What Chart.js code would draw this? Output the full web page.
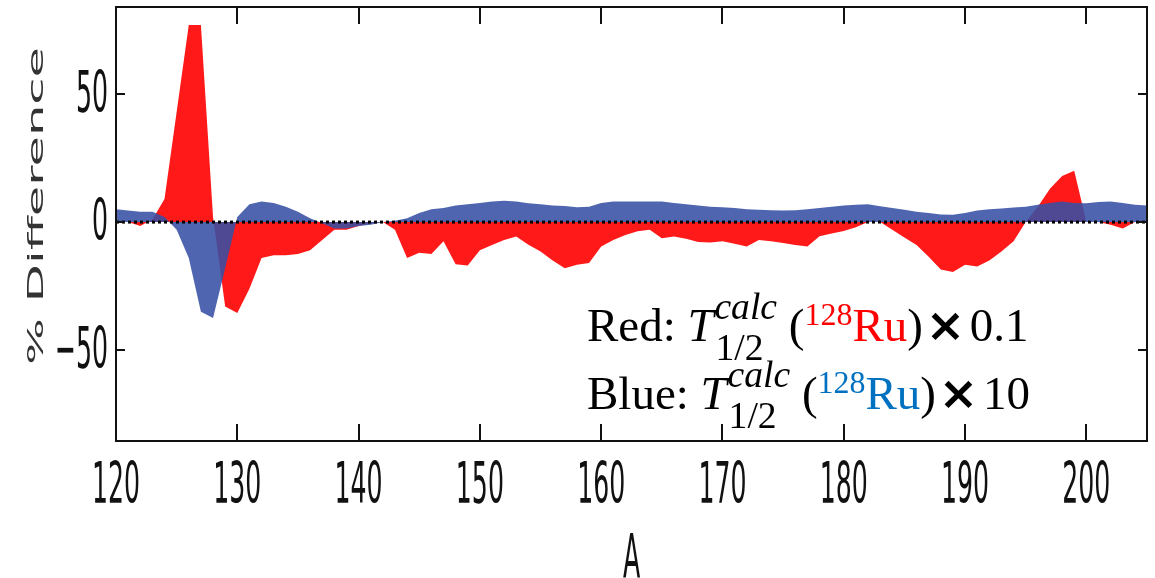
<!DOCTYPE html>
<html>
<head>
    <title>% Difference vs A</title>
    <script src="https://cdn.jsdelivr.net/npm/chart.js"></script>
    <style>
        body {
            margin: 0;
            background: white;
        }
        .wrap {
            position: relative;
            width: 1155px;
            height: 578px;
        }
        .note {
            position: absolute;
            left: 587px;
            font-family: "Liberation Serif", serif;
            font-size: 47px;
            line-height: 1;
            white-space: nowrap;
            color: #000;
        }
        .T { font-style: italic; }
        .ss {
            display: inline-block;
            position: relative;
            width: 1.6em;
            height: 0;
        }
        .sp {
            position: absolute;
            left: 0.02em;
            bottom: 0.4em;
            font-size: 0.8em;
            font-style: italic;
        }
        .sb {
            position: absolute;
            left: 0.05em;
            top: -0.32em;
            font-size: 0.8em;
        }
        .iso sup {
            font-size: 0.68em;
            vertical-align: 0.5em;
            line-height: 0;
        }
        .red { color: #ff0000; }
        .blue { color: #0070c0; }
        .x {
            font-family: "DejaVu Sans", sans-serif;
            font-weight: bold;
            padding: 0 0.1em 0 0.06em;
        }
    </style>
</head>
<body>
    <div class="wrap">
        <canvas id="chart" width="1155" height="578"></canvas>
        <div class="note" style="top:301px;">Red: <span class="T">T</span><span class="ss"><span class="sp">calc</span><span class="sb">1/2</span></span>(<span class="iso red"><sup>128</sup>Ru</span>)<span class="x">×</span>0.1</div>
        <div class="note" style="top:369px;">Blue: <span class="T">T</span><span class="ss"><span class="sp">calc</span><span class="sb">1/2</span></span>(<span class="iso blue"><sup>128</sup>Ru</span>)<span class="x">×</span>10</div>
    </div>

    <script>
        // mass numbers A
        const massNumbers = [
            120, 121, 122, 123, 124, 125, 126, 127, 128, 129,
            130, 131, 132, 133, 134, 135, 136, 137, 138, 139,
            140, 141, 142, 143, 144, 145, 146, 147, 148, 149,
            150, 151, 152, 153, 154, 155, 156, 157, 158, 159,
            160, 161, 162, 163, 164, 165, 166, 167, 168, 169,
            170, 171, 172, 173, 174, 175, 176, 177, 178, 179,
            180, 181, 182, 183, 184, 185, 186, 187, 188, 189,
            190, 191, 192, 193, 194, 195, 196, 197, 198, 199,
            200, 201, 202, 203, 204, 205
        ];

        // red: T1/2 x 0.1
        const redDiff = [
            0, 0, -1.5, 1, 9, 43, 77, 77, 2, -33,
            -35.5, -26, -14, -13, -13, -12.5, -11, -7, -3, -3,
            -1.5, -0.5, 0, -3, -14, -12, -12.5, -7.5, -16.5, -17,
            -11, -9, -7, -5.6, -8.9, -11.5, -15, -18, -16.7, -16,
            -9.5, -7, -5, -3.6, -3, -6.3, -5.6, -6.5, -7.8, -8,
            -7.5, -8.5, -9.5, -7, -7.5, -8.2, -9, -9.5, -5.5, -4.5,
            -3.5, -2, 0, 0, -3, -6, -9, -13.5, -18.5, -19.5,
            -16.7, -17.3, -15, -11.5, -7.5, 0, 6, 13, 18, 20,
            0, 0, -1, -2.5, 0, 0
        ];

        // blue: T1/2 x 10
        const blueDiff = [
            5, 4.5, 4, 4, 2, -3, -14, -35, -37.5, -18,
            2, 7, 8, 7.5, 6, 4, 1.5, -0.5, -2.5, -2.5,
            -1.5, -1, 0, 0.5, 1.5, 3.5, 5, 5.5, 6.5, 7,
            7.5, 8, 8.3, 8, 7.4, 7, 6.5, 6.3, 5.8, 6,
            7.5, 8, 8, 8, 8, 8, 7.5, 7, 6.5, 6,
            5.8, 5.5, 5, 4.8, 4.6, 4.5, 4.6, 5, 5.5, 6,
            6.5, 6.8, 7, 6.2, 5.5, 4.8, 4, 3.5, 3, 2.9,
            3.5, 4.5, 5, 5.3, 5.7, 6, 6.8, 7.5, 8, 7.5,
            7.4, 7.8, 8, 7.5, 6.8, 6.5
        ];

        const xTicks = [120, 130, 140, 150, 160, 170, 180, 190, 200];
        const yTicks = [-50, 0, 50];
        const yTickLabels = ['\u221250', '0', '50'];

        function toPoints(values) {
            return massNumbers.map((a, i) => ({ x: a, y: values[i] }));
        }

        const labelFont = '28px "DejaVu Sans Condensed", "DejaVu Sans", sans-serif';

        // draws the box, inward ticks and the stretched axis text
        const framePlugin = {
            id: 'frame',
            afterDraw(chart) {
                const ctx = chart.ctx;
                const area = chart.chartArea;
                const xs = chart.scales.x;
                const ys = chart.scales.y;
                ctx.save();
                ctx.strokeStyle = '#111';
                ctx.lineWidth = 2;
                ctx.strokeRect(area.left, area.top, area.right - area.left, area.bottom - area.top);

                ctx.beginPath();
                xTicks.forEach(v => {
                    const px = Math.round(xs.getPixelForValue(v));
                    ctx.moveTo(px, area.bottom);
                    ctx.lineTo(px, area.bottom - 17);
                    ctx.moveTo(px, area.top);
                    ctx.lineTo(px, area.top + 17);
                });
                yTicks.forEach(v => {
                    const py = Math.round(ys.getPixelForValue(v));
                    ctx.moveTo(area.left, py);
                    ctx.lineTo(area.left + 9, py);
                    ctx.moveTo(area.right, py);
                    ctx.lineTo(area.right - 9, py);
                });
                ctx.stroke();

                ctx.fillStyle = '#111';
                ctx.font = labelFont;
                ctx.textBaseline = 'alphabetic';

                ctx.textAlign = 'center';
                xTicks.forEach(v => {
                    const px = xs.getPixelForValue(v);
                    ctx.save();
                    ctx.translate(px, 503);
                    ctx.scale(1, 2.05);
                    ctx.fillText(String(v), 0, 0);
                    ctx.restore();
                });

                ctx.textAlign = 'right';
                yTicks.forEach((v, i) => {
                    const py = ys.getPixelForValue(v);
                    ctx.save();
                    ctx.translate(108, py + 18);
                    ctx.scale(1, 2.05);
                    ctx.fillText(yTickLabels[i], 0, 0);
                    ctx.restore();
                });

                // x title
                ctx.textAlign = 'center';
                ctx.save();
                ctx.translate((area.left + area.right) / 2, 577);
                ctx.scale(1, 2.15);
                ctx.fillText('A', 0, 0);
                ctx.restore();

                // y title, stretched along its length
                ctx.fillStyle = '#333';
                ctx.font = '22px "DejaVu Sans Condensed", "DejaVu Sans", sans-serif';
                const title = '% Difference';
                const w = ctx.measureText(title).width;
                ctx.save();
                ctx.translate(43, 206);
                ctx.rotate(-Math.PI / 2);
                ctx.scale(318 / w, 1);
                ctx.fillText(title, 0, 0);
                ctx.restore();

                ctx.restore();
            }
        };

        new Chart(document.getElementById('chart'), {
            type: 'line',
            data: {
                datasets: [
                    {
                        label: 'zero',
                        data: [{ x: 120, y: 0 }, { x: 205, y: 0 }],
                        borderColor: '#000',
                        borderWidth: 3,
                        borderDash: [3, 3],
                        pointRadius: 0,
                        fill: false,
                        order: 1
                    },
                    {
                        label: 'Blue',
                        data: toPoints(blueDiff),
                        borderColor: 'rgba(55, 80, 165, 0.88)',
                        backgroundColor: 'rgba(55, 80, 165, 0.88)',
                        borderWidth: 0,
                        pointRadius: 0,
                        tension: 0,
                        fill: 'origin',
                        order: 2
                    },
                    {
                        label: 'Red',
                        data: toPoints(redDiff),
                        borderColor: 'rgb(255, 25, 25)',
                        backgroundColor: 'rgb(255, 25, 25)',
                        borderWidth: 0,
                        pointRadius: 0,
                        tension: 0,
                        fill: 'origin',
                        order: 3
                    }
                ]
            },
            options: {
                responsive: false,
                animation: false,
                layout: {
                    padding: { left: 116, top: 7, right: 8, bottom: 137 }
                },
                plugins: {
                    legend: { display: false },
                    tooltip: { enabled: false }
                },
                scales: {
                    x: { type: 'linear', min: 120, max: 205, display: false },
                    y: { min: -85.5, max: 84, display: false }
                }
            },
            plugins: [framePlugin]
        });
    </script>
</body>
</html>
